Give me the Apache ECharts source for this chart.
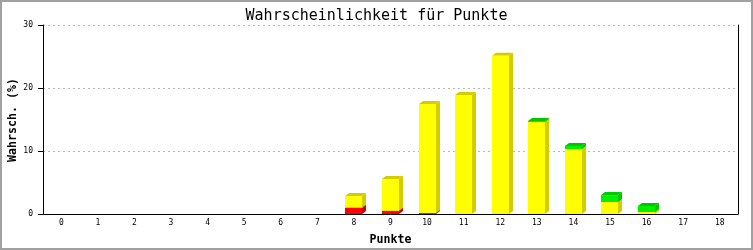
<!DOCTYPE html>
<html><head><meta charset="utf-8">
<script src="https://cdn.jsdelivr.net/npm/echarts@6/dist/echarts.min.js"></script>
<style>html,body{margin:0;padding:0;background:#fff}#c{width:753px;height:250px}</style>
</head><body><div id="c"></div>
<script>
const categories = ['0','1','2','3','4','5','6','7','8','9','10','11','12','13','14','15','16','17','18'];
const redValues    = [0,0,0,0,0,0,0,0,1.0,0.5,0.15,0,0,0,0,0,0,0,0];
const yellowValues = [0,0,0,0,0,0,0,0,1.85,5.06,17.3,18.9,25.1,14.6,10.3,1.9,0.32,0,0];
const greenValues  = [0,0,0,0,0,0,0,0,0,0,0,0,0,0.16,0.5,1.1,0.95,0,0];
const yTicks = [0,10,20,30];
const yAxisTitle = 'Wahrsch. (%)';

const segs = [
  {name:'rot', values:redValues, front:'#ff0000', side:'#c80000'},
  {name:'gelb', values:yellowValues, front:'#ffff00', side:'#d2cc00'},
  {name:'gruen', values:greenValues, front:'#00ee00', side:'#00c800'}
];
const base = categories.map(()=>0);
const seriesData = segs.map(s => s.values.map((v,i) => { const b = base[i]; base[i] += v; return [i, b, b+v]; }));

function makeRender(front, side) {
  return function(params, api) {
    const cat = api.value(0), b = api.value(1), t = api.value(2);
    if (!(t - b > 0)) return null;
    const p0 = api.coord([cat, b]), p1 = api.coord([cat, t]);
    const band = api.size([1, 0])[0];
    const w = Math.round(band * 0.47), dx = 4, dy = 3;
    const xl = Math.round(p0[0] - w / 2), xr = xl + w;
    const yb = p0[1], yt = p1[1];
    return {type:'group', children:[
      {type:'polygon', shape:{points:[[xr,yb],[xr+dx,yb-dy],[xr+dx,yt-dy],[xr,yt]]}, style:{fill:side}},
      {type:'polygon', shape:{points:[[xl,yt],[xl+dx,yt-dy],[xr+dx,yt-dy],[xr,yt]]}, style:{fill:side}},
      {type:'rect', shape:{x:xl, y:yt, width:w, height:yb-yt}, style:{fill:front}}
    ]};
  };
}

const chart = echarts.init(document.getElementById('c'), null, {renderer:'canvas'});
chart.setOption({
  animation:false,
  backgroundColor:'#fff',
  title:{text:'Wahrscheinlichkeit für Punkte', left:'center', top:4,
    textStyle:{fontFamily:'DejaVu Sans Mono', fontSize:15, fontWeight:'normal', color:'#000'}},
  grid:{left:43, right:15, top:25, bottom:36, containLabel:false, outerBoundsMode:'none'},
  xAxis:{type:'category', data:categories, name:'Punkte', nameLocation:'middle', nameGap:20,
    nameTextStyle:{fontFamily:'DejaVu Sans Mono', fontWeight:'bold', fontSize:11.6, color:'#000'},
    axisLine:{lineStyle:{color:'#000', width:1}}, axisTick:{show:false},
    axisLabel:{fontFamily:'DejaVu Sans Mono', fontSize:8, color:'#000', margin:5}},
  yAxis:[{type:'value', min:yTicks[0], max:yTicks[yTicks.length-1], interval:10,
    axisLine:{show:true, lineStyle:{color:'#000', width:1}},
    axisTick:{show:true, length:5, lineStyle:{color:'#000'}},
    axisLabel:{fontFamily:'DejaVu Sans Mono', fontSize:8, color:'#000', margin:10},
    splitLine:{show:true, lineStyle:{color:'#b8b8b8', type:[2,3]}}},
   {type:'value', position:'right', min:0, max:30, interval:10,
    axisLine:{show:true, lineStyle:{color:'#000', width:1}}, axisTick:{show:false},
    axisLabel:{show:false}, splitLine:{show:false}}],
  graphic:[
    {type:'rect', shape:{x:1, y:1, width:751, height:248}, style:{fill:'none', stroke:'#a0a0a0', lineWidth:2}, silent:true},
    {type:'text', x:13, y:120, rotation:Math.PI/2, silent:true,
     style:{text:yAxisTitle, align:'center', verticalAlign:'middle', fill:'#000',
       font:'bold 11.6px "DejaVu Sans Mono"'}}
  ],
  series: segs.map((s, k) => ({type:'custom', name:s.name, renderItem:makeRender(s.front, s.side),
    encode:{x:0, y:[1,2]}, data:seriesData[k], z:2+k}))
});
</script></body></html>
